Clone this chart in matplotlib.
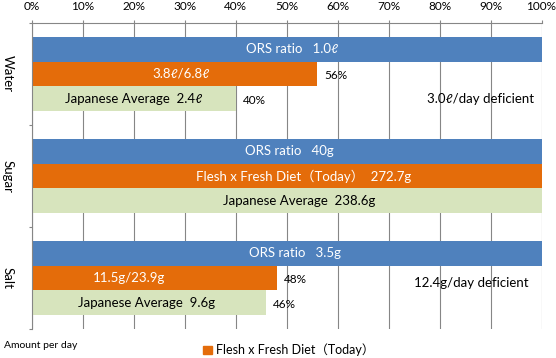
import matplotlib
matplotlib.use("Agg")
import matplotlib.pyplot as plt
from matplotlib.patches import Patch
import numpy as np

CATEGORIES = ["Water", "Sugar", "Salt"]
ORS_PCT = [100, 100, 100]
DIET_PCT = [56, 100, 48]
JAPAN_PCT = [40, 100, 46]

ORS_LABELS = ["ORS ratio   1.0ℓ", "ORS ratio   40g", "ORS ratio   3.5g"]
DIET_LABELS = ["3.8ℓ/6.8ℓ", "Flesh x Fresh Diet（Today）  272.7g", "11.5g/23.9g"]
JAPAN_LABELS = ["Japanese Average  2.4ℓ", "Japanese Average  238.6g", "Japanese Average  9.6g"]
DEFICIT_LABELS = ["3.0ℓ/day deficient", "", "12.4g/day deficient"]

TICK_LABELS = [f"{v}%" for v in range(0, 101, 10)]

BLUE = "#4F81BD"
ORANGE = "#E46C0A"
GREEN = "#D7E4BD"
GRID = "#868686"

FONT = ["Lato", "Noto Sans CJK JP", "DejaVu Sans"]
plt.rcParams["font.family"] = FONT

fig = plt.figure(figsize=(5.56, 3.58), dpi=100)
ax = fig.add_axes([32 / 556, 1 - 329 / 358, 509.5 / 556, 306 / 358])

y = np.arange(len(CATEGORIES))
h = 0.243
ax.barh(y - h, ORS_PCT, height=h, color=BLUE, zorder=2)
ax.barh(y, DIET_PCT, height=h, color=ORANGE, zorder=2)
ax.barh(y + h, JAPAN_PCT, height=h, color=GREEN, zorder=2)

# small horizontal nudges (pixels) so labels sit where the original had them
ors_dx = [5, 3, 8]
diet_dx = [6, 17, -25]
japan_dx = [0, 12, -3]

def px(d):
    return d * 72 / 100

for i in range(len(CATEGORIES)):
    ax.annotate(ORS_LABELS[i], (ORS_PCT[i] / 2, y[i] - h), xytext=(px(ors_dx[i]), 0),
                textcoords="offset points", ha="center", va="center",
                color="white", fontsize=9.5, zorder=3)
    ax.annotate(DIET_LABELS[i], (DIET_PCT[i] / 2, y[i]), xytext=(px(diet_dx[i]), 0),
                textcoords="offset points", ha="center", va="center",
                color="white", fontsize=9.5, zorder=3)
    ax.annotate(JAPAN_LABELS[i], (JAPAN_PCT[i] / 2, y[i] + h), xytext=(px(japan_dx[i]), 0),
                textcoords="offset points", ha="center", va="center",
                color="black", fontsize=9.5, zorder=3)
    if DIET_PCT[i] < 100:
        ax.annotate(f"{DIET_PCT[i]}%", (DIET_PCT[i], y[i]), xytext=(5, -1),
                    textcoords="offset points", ha="left", va="center",
                    fontsize=8.5, zorder=3)
    if JAPAN_PCT[i] < 100:
        ax.annotate(f"{JAPAN_PCT[i]}%", (JAPAN_PCT[i], y[i] + h), xytext=(5, -1),
                    textcoords="offset points", ha="left", va="center",
                    fontsize=8.5, zorder=3)

deficit_dy = [h, 0, 0.05]
deficit_right = [98.5, 0, 97.4]
for i, lab in enumerate(DEFICIT_LABELS):
    if lab:
        ax.text(deficit_right[i], y[i] + deficit_dy[i], lab, ha="right", va="center",
                fontsize=9.5, zorder=3)

ax.set_xlim(0, 100)
ax.set_ylim(2.5, -0.5)

ax.xaxis.tick_top()
ax.set_xticks(range(0, 101, 10))
ax.set_xticklabels(TICK_LABELS)
ax.tick_params(axis="x", length=2.2, width=0.8, color=GRID, labelsize=8.5, pad=6)
ax.grid(axis="x", color=GRID, linewidth=0.8, zorder=1)
ax.set_axisbelow(True)

ax.set_yticks(y)
ax.set_yticklabels(CATEGORIES, rotation=-90, va="center", ha="right", fontsize=9.5)
ax.set_yticks([-0.5, 0.5, 1.5, 2.5], minor=True)
ax.tick_params(axis="y", which="major", length=0, pad=13)
ax.tick_params(axis="y", which="minor", length=2.5, width=0.8, color=GRID)

for side in ["right", "bottom"]:
    ax.spines[side].set_visible(False)
for side in ["top", "left"]:
    ax.spines[side].set_color(GRID)
    ax.spines[side].set_linewidth(0.8)

fig.text(4 / 556, 1 - 346 / 358, "Amount per day", fontsize=7.5, ha="left", va="center")
fig.legend(handles=[Patch(color=ORANGE, label="Flesh x Fresh Diet（Today）")],
           loc="center left", bbox_to_anchor=(203 / 556, 1 - 350 / 358),
           frameon=False, fontsize=9, handlelength=0.7, handleheight=0.7,
           handletextpad=0.3, borderpad=0, borderaxespad=0)

fig.savefig("out.png", dpi=100)
